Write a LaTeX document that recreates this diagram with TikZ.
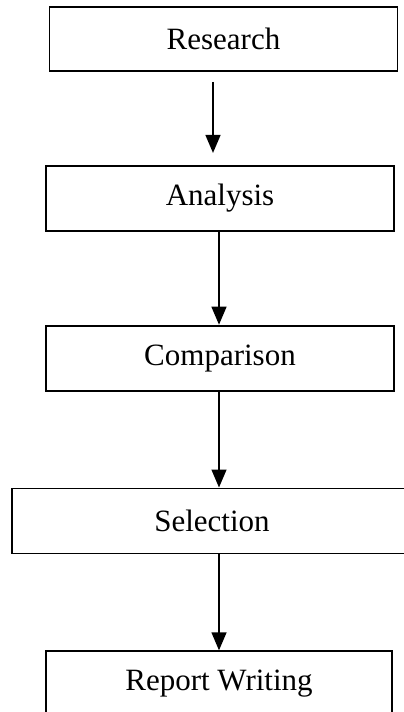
\documentclass[tikz,border=0pt]{standalone}
\usepackage{fontspec}
\setmainfont{Liberation Serif}
\usepackage{tikz}
\usetikzlibrary{arrows.meta, positioning}

\begin{document}
\begin{tikzpicture}[
  node distance=46.5pt,
  box/.style={draw=black, line width=0.9pt, align=center, minimum width=174pt,
              minimum height=32.5pt, inner sep=0pt,
              font=\fontsize{15.5}{18}\selectfont},
  arr/.style={-{Triangle[length=9pt, width=7.5pt]}, line width=0.7pt, draw=black}
]
\useasboundingbox (0,0) rectangle (201.5pt,-356pt);
\node[box, minimum height=32pt] (res) at (111.75pt,-19.5pt) {Research};
\node[box, below=of res, xshift=-1.75pt] (ana) {Analysis};
\node[box, below=of ana] (comp) {Comparison};
\node[box, below=of comp, xshift=-4pt, yshift=-1.5pt, minimum width=200pt] (sel) {Selection};
\node[box, below=of sel, xshift=3.5pt, yshift=-1.5pt, minimum width=173pt] (rep) {Report Writing};

\draw[arr, shorten <=5pt, shorten >=6pt] ([xshift=-3.5pt]ana.north |- res.south) -- ([xshift=-3.5pt]ana.north);
\draw[arr] ([xshift=-0.5pt]ana.south) -- ([xshift=-0.5pt]comp.north);
\draw[arr] ([xshift=-0.5pt]comp.south) -- ([xshift=-0.5pt]comp.south |- sel.north);
\draw[arr] (rep.north |- sel.south) -- (rep.north);
\end{tikzpicture}
\end{document}
